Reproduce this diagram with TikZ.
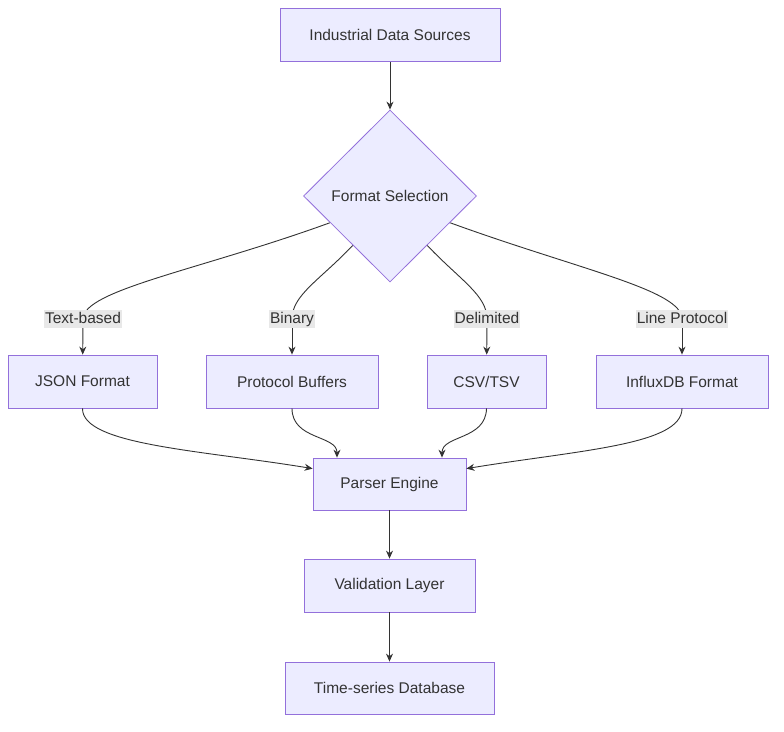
\documentclass[tikz,border=0pt]{standalone}
\usepackage{fontspec}
\setmainfont{Liberation Sans}
\usetikzlibrary{shapes.geometric,arrows.meta,backgrounds}
\definecolor{boxfill}{HTML}{ECECFF}
\definecolor{boxline}{HTML}{9370DB}
\definecolor{edge}{HTML}{333333}
\definecolor{lblbg}{HTML}{E8E8E8}
\tikzset{
  box/.style={draw=boxline,fill=boxfill,line width=0.8pt,minimum height=53pt,inner sep=0pt,font=\fontsize{15.5}{17}\selectfont,text=edge},
  dec/.style={draw=boxline,fill=boxfill,line width=0.8pt,diamond,minimum width=173pt,minimum height=172pt,inner sep=0pt,font=\fontsize{15.5}{17}\selectfont,text=edge},
  lbl/.style={fill=lblbg,inner sep=1pt,text height=12pt,text depth=4pt,font=\fontsize{15.5}{17}\selectfont,text=edge},
  arr/.style={draw=edge,line width=0.9pt,-{Stealth[length=8pt,width=7pt]}},
  ln/.style={draw=edge,line width=0.9pt}
}
\begin{document}
\begin{tikzpicture}[x=1pt,y=-1pt]
\useasboundingbox (0,0) rectangle (784,731);
% nodes
\node[box,minimum width=220pt] (src) at (390,34.5) {Industrial Data Sources};
\node[dec] (fmt) at (390,196) {Format Selection};
\node[lbl] (tb) at (83,319) {Text-based};
\node[lbl] (bin) at (292,319) {Binary};
\node[lbl] (del) at (487,319) {Delimited};
\node[lbl] (lp) at (682,319) {Line Protocol};
\node[box,minimum width=149pt] (json) at (82.5,381.5) {JSON Format};
\node[box,minimum width=172pt] (pb) at (292,381.5) {Protocol Buffers};
\node[box,minimum width=119pt] (csv) at (486.5,381.5) {CSV/TSV};
\node[box,minimum width=172pt] (infl) at (682,381.5) {InfluxDB Format};
\node[box,minimum width=153pt,minimum height=52pt] (prs) at (389.5,484) {Parser Engine};
\node[box,minimum width=171pt] (val) at (389.5,585.5) {Validation Layer};
\node[box,minimum width=209pt,minimum height=52pt] (tsdb) at (389.5,688) {Time-series Database};
% edges
\begin{scope}[on background layer]
\draw[arr] (src) -- (fmt);
\draw[ln] (fmt.204) .. controls (200,270) and (83,290) .. (tb.center);
\draw[ln] (fmt.233) .. controls (320,280) and (292,295) .. (bin.center);
\draw[ln] (fmt.307) .. controls (460,280) and (487,295) .. (del.center);
\draw[ln] (fmt.336) .. controls (580,270) and (682,290) .. (lp.center);
\end{scope}
\draw[arr] (tb) -- (json);
\draw[arr] (bin) -- (pb);
\draw[arr] (del) -- (csv);
\draw[arr] (lp) -- (infl);
\draw[arr] (json.south) .. controls (82,445) and (200,450) .. ([yshift=-11pt]prs.north west);
\draw[arr] (pb.south) .. controls (292,440) and (337,435) .. (prs.north -| 337,0);
\draw[arr] (csv.south) .. controls (486,440) and (442,435) .. (prs.north -| 442,0);
\draw[arr] (infl.south) .. controls (682,445) and (580,450) .. ([yshift=-11pt]prs.north east);
\draw[arr] (prs) -- (val);
\draw[arr] (val) -- (tsdb);
\end{tikzpicture}
\end{document}
